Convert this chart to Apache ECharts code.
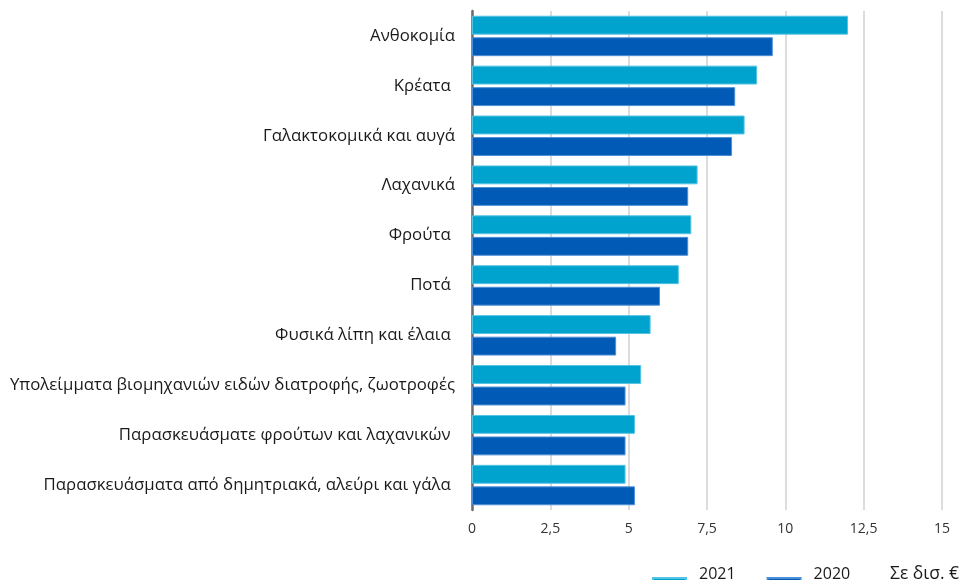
<!DOCTYPE html>
<html>
<head>
<meta charset="utf-8">
<script src="https://cdn.jsdelivr.net/npm/echarts@6/dist/echarts.min.js"></script>
<style>
html,body{margin:0;padding:0;background:#fff;}
#chart{width:961px;height:580px;}
</style>
</head>
<body>
<div id="chart"></div>
<script>
const categories = [
  'Ανθοκομία',
  'Κρέατα ',
  'Γαλακτοκομικά και αυγά',
  'Λαχανικά',
  'Φρούτα ',
  'Ποτά ',
  'Φυσικά λίπη και έλαια ',
  'Υπολείμματα βιομηχανιών ειδών διατροφής, ζωοτροφές',
  'Παρασκευάσματε φρούτων και λαχανικών ',
  'Παρασκευάσματα από δημητριακά, αλεύρι και γάλα '
];
const values2021 = [12.0, 9.1, 8.7, 7.2, 7.0, 6.6, 5.7, 5.4, 5.2, 4.9];
const values2020 = [9.6, 8.4, 8.3, 6.9, 6.9, 6.0, 4.6, 4.9, 4.9, 5.2];
const seriesNames = ['2021', '2020'];
const unitLabel = 'Σε δισ. €';

const FONT = '"Open Sans", "Noto Sans", sans-serif';
const chart = echarts.init(document.getElementById('chart'), null, {renderer: 'canvas'});
chart.setOption({
  animation: false,
  textStyle: {fontFamily: FONT},
  grid: {left: 472, right: 19, top: 11, bottom: 70, containLabel: false},
  xAxis: {
    type: 'value', min: 0, max: 15, interval: 2.5,
    axisLine: {show: false}, axisTick: {show: false},
    splitLine: {show: true, lineStyle: {color: '#dcdcdc', width: 2}},
    axisLabel: {
      color: '#333', fontSize: 14, margin: 12, fontFamily: FONT,
      formatter: v => String(v).replace('.', ',')
    }
  },
  yAxis: {
    type: 'category', data: categories, inverse: true,
    axisLine: {show: true, lineStyle: {color: '#6b6b6b', width: 2.5}},
    axisTick: {show: false},
    axisLabel: {color: '#1a1a1a', fontSize: 16.8, margin: 17, fontFamily: FONT}
  },
  legend: {
    data: seriesNames, left: 652, top: 563, itemWidth: 33, itemHeight: 14, itemGap: 31,
    icon: 'rect', padding: 0,
    formatter: name => name + '\n ',
    textStyle: {color: '#1a1a1a', fontSize: 16, lineHeight: 22, fontFamily: FONT, padding: [0, 0, 0, 8]}
  },
  graphic: [{
    type: 'text', x: 890, y: 574,
    style: {text: unitLabel, fill: '#1a1a1a', font: '17.5px ' + FONT, verticalAlign: 'middle'}
  }],
  series: [
    {name: seriesNames[0], type: 'bar', data: values2021, barCategoryGap: '19%', barGap: '14%',
     itemStyle: {color: '#00a3cd', borderColor: '#55c3e3', borderWidth: 1}},
    {name: seriesNames[1], type: 'bar', data: values2020, barCategoryGap: '19%', barGap: '14%',
     itemStyle: {color: '#005ab6', borderColor: '#4d8fd6', borderWidth: 1}}
  ]
});
</script>
</body>
</html>
